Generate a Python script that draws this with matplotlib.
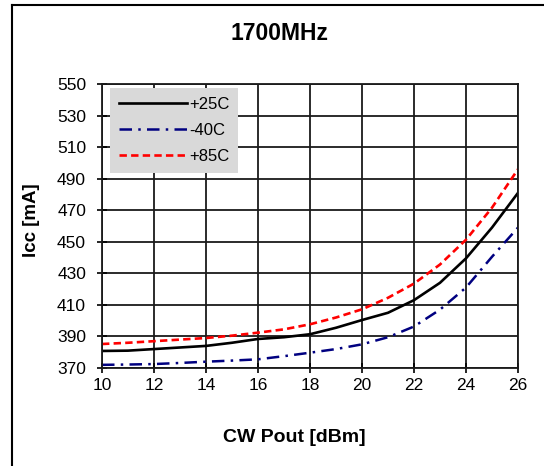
import matplotlib

matplotlib.use("Agg")
import matplotlib.pyplot as plt
from matplotlib.lines import Line2D

plt.rcParams["font.family"] = ["Liberation Sans", "DejaVu Sans"]

# CW output power [dBm]
pout = [10, 11, 12, 13, 14, 15, 16, 17, 18, 19, 20, 21, 22, 23, 24, 25, 26]
# supply current [mA] per temperature
icc_25c = [380.8, 381.0, 382.0, 383.0, 384.0, 386.0, 388.4, 389.5, 391.4, 395.5,
           400.4, 405.0, 413.0, 424.0, 439.5, 459.0, 481.0]
icc_m40c = [372.0, 372.2, 372.5, 373.2, 374.0, 374.7, 375.5, 377.5, 379.7, 382.0,
            385.0, 389.5, 396.3, 407.0, 421.0, 440.5, 459.0]
icc_85c = [385.2, 386.0, 387.0, 388.0, 389.0, 390.5, 392.4, 394.5, 397.7, 402.0,
           407.2, 414.5, 423.5, 435.6, 451.3, 471.6, 496.0]

labels = ["+25C", "-40C", "+85C"]
x_ticks = list(range(10, 27, 2))
y_ticks = list(range(370, 551, 20))

W, H = 544, 466
fig = plt.figure(figsize=(W / 100, H / 100), dpi=100)
ax = fig.add_axes([102 / W, 1 - 368 / H, (518 - 102) / W, (368 - 84) / H])

ax.plot(pout, icc_25c, color="black", lw=1.9, label=labels[0])
ax.plot(pout, icc_m40c, color="#000080", lw=1.8, dashes=(5, 2.5, 1, 2.5), label=labels[1])
ax.plot(pout, icc_85c, color="#ff0000", lw=1.9, dashes=(2.8, 1.6), label=labels[2])

ax.set_xlim(10, 26)
ax.set_ylim(370, 550)
ax.set_xticks(x_ticks)
ax.set_yticks(y_ticks)
ax.grid(True, color="#1a1a1a", lw=1.3)
ax.set_axisbelow(True)
for sp in ax.spines.values():
    sp.set_color("#1a1a1a")
    sp.set_linewidth(1.3)
ax.tick_params(axis="both", direction="inout", length=7, width=1.2,
               labelsize=12.5, colors="black")
ax.tick_params(axis="x", pad=4)
ax.tick_params(axis="y", pad=8)

leg = ax.legend(loc="upper left", bbox_to_anchor=(0.02, 0.985), fontsize=12,
                frameon=True, fancybox=False, handlelength=4.1, handletextpad=0.15,
                labelspacing=0.68, borderpad=0.5, borderaxespad=0.0)
leg.get_frame().set_facecolor("#d9d9d9")
leg.get_frame().set_edgecolor("none")
leg.get_frame().set_alpha(1)

fig.text(280 / W, 1 - 33 / H, "1700MHz", ha="center", va="center",
         fontsize=16.5, fontweight="bold")
fig.text(294 / W, 1 - 438 / H, "CW Pout [dBm]", ha="center", va="center",
         fontsize=14, fontweight="bold")
fig.text(32 / W, 1 - 220 / H, "Icc [mA]", ha="center", va="center",
         rotation=90, fontsize=13.5, fontweight="bold")

# outer border of the original figure
fig.add_artist(Line2D([12 / W, 1.0], [1 - 5 / H, 1 - 5 / H], color="black", lw=1.5))
fig.add_artist(Line2D([12 / W, 12 / W], [0.0, 1 - 5 / H], color="black", lw=1.5))

fig.savefig("out.png", dpi=100)
